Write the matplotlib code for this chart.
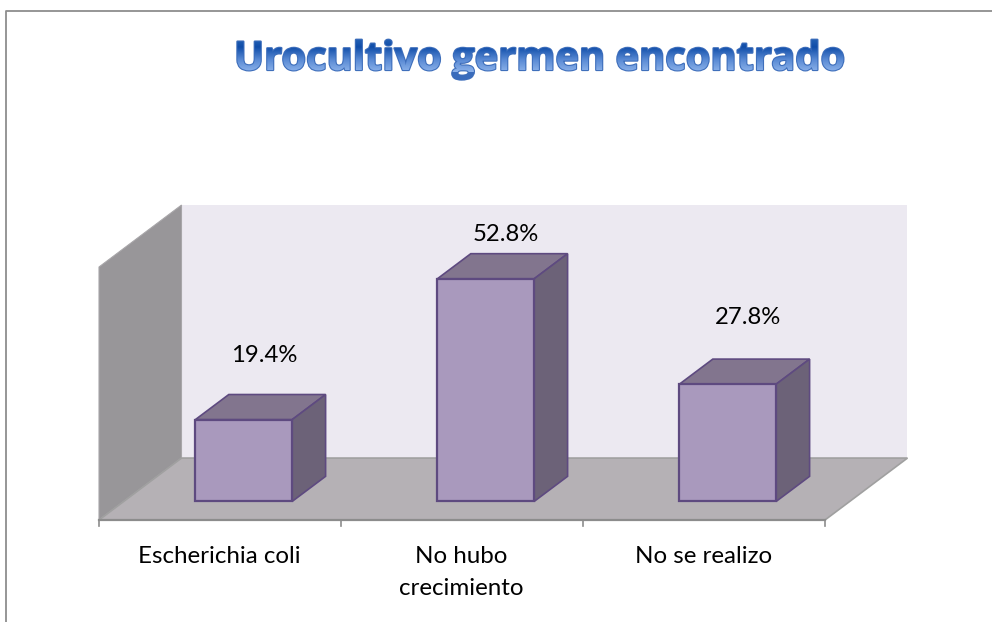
import numpy as np
import matplotlib
matplotlib.use("Agg")
import matplotlib.pyplot as plt
import matplotlib.patheffects as pe
from matplotlib.patches import Polygon, PathPatch
from matplotlib.textpath import TextPath
from matplotlib.font_manager import FontProperties
from matplotlib.transforms import Affine2D

# --- data ---
categories = ["Escherichia coli", "No hubo\ncrecimiento", "No se realizo"]
values = [19.4, 52.8, 27.8]
labels = ["19.4%", "52.8%", "27.8%"]
title = "Urocultivo germen encontrado"

W, H = 992, 622
DEPTH_X = 82.5 / 242    # floor depth, in category widths
DEPTH_Y = 62 / 4.22     # floor depth, in percent units
YMAX = 60
BAR_W = 0.40
D0, D1 = 0.30, 0.705    # where the bars sit in the floor depth
label_gap = [15.2, 10.6, 15.9]

fig = plt.figure(figsize=(W / 100, H / 100), dpi=100)
plt.rcParams["font.family"] = ["Lato", "DejaVu Sans"]

# marco de la imagen
fig.add_artist(plt.Line2D([5.5 / W, 5.5 / W, 1], [0, 1 - 10.5 / H, 1 - 10.5 / H], color="#8e8e8e", lw=1.3))

ax = fig.add_axes([99 / W, 1 - 520 / H, 726 / W, 253 / H])
ax.set_xlim(0, 3)
ax.set_ylim(0, YMAX)
ax.axis("off")


def proj(x, y, d):
    # proyeccion oblicua: d va de 0 (frente) a 1 (fondo)
    return (x + d * DEPTH_X, y + d * DEPTH_Y)


def poly(pts, z=1, **kw):
    ax.add_patch(Polygon(pts, closed=True, clip_on=False, zorder=z, **kw))


# paredes y piso
poly([proj(0, 0, 1), proj(3, 0, 1), proj(3, YMAX, 1), proj(0, YMAX, 1)], fc="#ece9f1", ec="none")
poly([proj(0, 0, 0), proj(0, 0, 1), proj(0, YMAX, 1), proj(0, YMAX, 0)], fc="#989699", ec="#a8a6a9", lw=0.8)
poly([proj(0, 0, 0), proj(3, 0, 0), proj(3, 0, 1), proj(0, 0, 1)], fc="#b5b1b5", ec="#a0a0a0", lw=1.2)

# eje x
ax.plot([0, 3], [0, 0], color="#8c8c8c", lw=1.6, clip_on=False, zorder=2)
for i in range(4):
    ax.plot([i, i], [0, -1.5], color="#8c8c8c", lw=1.2, clip_on=False, zorder=2)

# barras
edge = "#5e4a80"
for i, v in enumerate(values):
    x0 = i + 0.5 - BAR_W / 2 - 0.004
    x1 = x0 + BAR_W
    poly([proj(x0, 0, D0), proj(x1, 0, D0), proj(x1, v, D0), proj(x0, v, D0)],
         z=5, fc="#a999bd", ec=edge, lw=1.6)
    poly([proj(x0, v, D0), proj(x1, v, D0), proj(x1, v, D1), proj(x0, v, D1)],
         z=4, fc="#82758e", ec=edge, lw=1.2)
    poly([proj(x1, 0, D0), proj(x1, 0, D1), proj(x1, v, D1), proj(x1, v, D0)],
         z=4, fc="#6c6278", ec=edge, lw=1.2)
    lx, ly = proj(i + 0.5, v, D0)
    ax.text(lx + 0.08, ly + label_gap[i], labels[i], ha="center", va="center", fontsize=17.2, color="black", zorder=6)
    ax.text(i + 0.5 - 0.003, -6.1, categories[i], ha="center", va="top", fontsize=17.4,
            color="black", linespacing=1.68, clip_on=False)

# titulo con degradado
fp = FontProperties(family="Open Sans", weight="bold")
tp = TextPath((0, 0), title, size=50, prop=fp)
tw = tp.get_extents().width
scale = 606 / tw
tx, base = 234, H - 70
to_px = Affine2D().scale(scale).translate(tx, base)

fig.text(tx / W, base / H, title, fontproperties=fp,
         color="#3a6cbc", ha="left", va="baseline",
         path_effects=[pe.withStroke(linewidth=1.6, foreground="#3f6fbb")]).set_fontsize(50 * scale * 0.72)

bg = fig.add_axes([0, 0, 1, 1], zorder=10)
bg.axis("off")
bg.patch.set_alpha(0)
grad = np.linspace(0, 1, 64)
stops = np.array([[0.55, 0.70, 0.92], [0.35, 0.54, 0.83], [0.06, 0.30, 0.66], [0.16, 0.40, 0.72]])
rgb = np.stack([np.interp(grad, [0, 0.35, 0.72, 1], stops[:, c]) for c in range(3)], axis=1)[:, None, :]
# 0 abajo, 1 arriba
im = bg.imshow(rgb, origin="lower", aspect="auto", extent=(tx, tx + 610, base - 2, base + 33), zorder=11)
bg.set_xlim(0, W)
bg.set_ylim(0, H)
clip = PathPatch(tp, transform=to_px, fc="none", ec="none")
bg.add_patch(clip)
im.set_clip_path(clip)

fig.savefig("out.png", dpi=100)
